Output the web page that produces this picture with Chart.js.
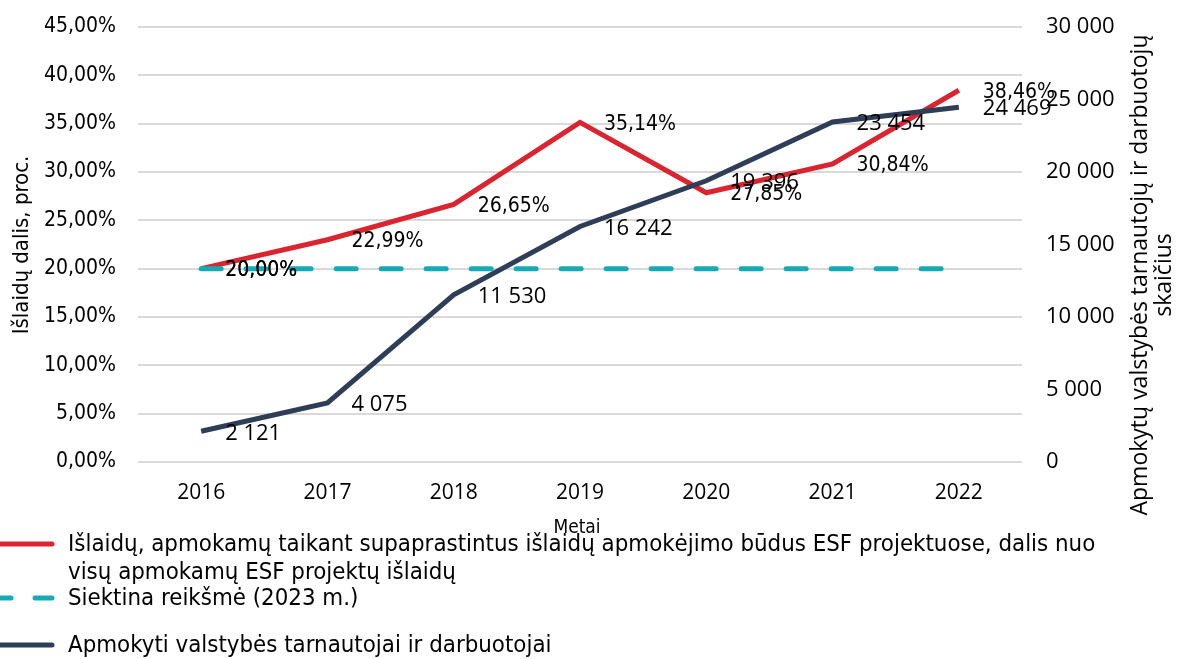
<!DOCTYPE html>
<html>
<head>
<meta charset="utf-8">
<script src="https://cdn.jsdelivr.net/npm/chart.js@4.4.1/dist/chart.umd.min.js"></script>
<style>
  html, body { margin: 0; padding: 0; background: #fff; }
  #wrap { width: 1177px; height: 659px; position: relative; }
</style>
</head>
<body>
<div id="wrap"><canvas id="esfChart"></canvas></div>
<script>
// data
const years = ['2016', '2017', '2018', '2019', '2020', '2021', '2022'];
const shareValues = [20.00, 22.99, 26.65, 35.14, 27.85, 30.84, 38.46];
const targetValues = [20.00, 20.00, 20.00, 20.00, 20.00, 20.00, 20.00];
const trainedValues = [2121, 4075, 11530, 16242, 19396, 23454, 24469];
// which points carry a value label (teal shows only the first one)
const targetLabelIdx = [0];

const legendTexts = [
  ['Išlaidų, apmokamų taikant supaprastintus išlaidų apmokėjimo būdus ESF projektuose, dalis nuo', 'visų apmokamų ESF projektų išlaidų'],
  ['Siektina reikšmė (2023 m.)'],
  ['Apmokyti valstybės tarnautojai ir darbuotojai']
];

const RED = 'rgb(218,37,49)';
const TEAL = 'rgb(22,170,180)';
const NAVY = 'rgb(46,62,86)';
const COND = '"DejaVu Sans Condensed", "DejaVu Sans"';
const pctFont = '21px ' + COND;
const numFont = '22px "Open Sans"';

function fmtPct(v) {
  return v.toFixed(2).replace('.', ',') + '%';
}
function fmtNum(v) {
  return String(Math.round(v)).replace(/\B(?=(\d{3})+(?!\d))/g, ' ');
}

// value labels to the right of each point
const valueLabels = {
  id: 'valueLabels',
  afterDatasetsDraw(chart) {
    const ctx = chart.ctx;
    ctx.save();
    ctx.textAlign = 'left';
    ctx.textBaseline = 'middle';
    ctx.fillStyle = '#000';
    chart.data.datasets.forEach((ds, i) => {
      const meta = chart.getDatasetMeta(i);
      meta.data.forEach((pt, j) => {
        if (ds.labelIdx && ds.labelIdx.indexOf(j) < 0) return;
        const v = ds.data[j];
        ctx.font = ds.yAxisID === 'y1' ? numFont : pctFont;
        const txt = ds.yAxisID === 'y1' ? fmtNum(v) : fmtPct(v);
        ctx.fillText(txt, pt.x + 24, pt.y + 2);
      });
    });
    ctx.restore();
  }
};

// axis titles and the legend at the bottom
const extras = {
  id: 'extras',
  afterDraw(chart) {
    const ctx = chart.ctx;
    ctx.save();
    ctx.fillStyle = '#000';
    ctx.textBaseline = 'middle';

    // left axis title
    ctx.save();
    ctx.translate(22, 245);
    ctx.rotate(-Math.PI / 2);
    ctx.textAlign = 'center';
    ctx.font = '22px ' + COND;
    ctx.fillText('Išlaidų dalis, proc.', 0, 0);
    ctx.restore();

    // right axis title (two lines, reading upward)
    ctx.save();
    ctx.translate(1140, 275);
    ctx.rotate(-Math.PI / 2);
    ctx.textAlign = 'center';
    ctx.font = '23px "Open Sans"';
    ctx.fillText('Apmokytų valstybės tarnautojų ir darbuotojų', 0, 0);
    ctx.fillText('skaičius', 0, 24);
    ctx.restore();

    // x axis title
    ctx.textAlign = 'center';
    ctx.font = '19px ' + COND;
    ctx.fillText('Metai', 577, 528);

    // legend
    ctx.textAlign = 'left';
    ctx.font = '23.8px ' + COND;
    ctx.lineWidth = 5;
    ctx.lineCap = 'round';

    ctx.strokeStyle = RED;
    ctx.beginPath(); ctx.moveTo(0, 544); ctx.lineTo(52, 544); ctx.stroke();
    ctx.fillText(legendTexts[0][0], 68, 545);
    ctx.fillText(legendTexts[0][1], 68, 573);

    ctx.strokeStyle = TEAL;
    ctx.beginPath(); ctx.moveTo(-10, 598); ctx.lineTo(11, 598); ctx.stroke();
    ctx.beginPath(); ctx.moveTo(35, 598); ctx.lineTo(52, 598); ctx.stroke();
    ctx.fillText(legendTexts[1][0], 68, 599);

    ctx.strokeStyle = NAVY;
    ctx.beginPath(); ctx.moveTo(0, 645); ctx.lineTo(52, 645); ctx.stroke();
    ctx.fillText(legendTexts[2][0], 68, 646);

    ctx.restore();
  }
};

const data = {
  labels: years,
  datasets: [{
    label: legendTexts[0].join(' '),
    data: shareValues,
    borderColor: RED,
    backgroundColor: RED,
    borderWidth: 5,
    pointRadius: 0,
    yAxisID: 'y',
    order: 2
  },
  {
    label: legendTexts[1][0],
    data: targetValues,
    borderColor: TEAL,
    backgroundColor: TEAL,
    borderWidth: 5,
    borderDash: [20, 25],
    borderCapStyle: 'round',
    pointRadius: 0,
    yAxisID: 'y',
    labelIdx: targetLabelIdx,
    order: 1
  },
  {
    label: legendTexts[2][0],
    data: trainedValues,
    borderColor: NAVY,
    backgroundColor: NAVY,
    borderWidth: 5,
    pointRadius: 0,
    yAxisID: 'y1',
    order: 0
  }]
};

const config = {
  type: 'line',
  data: data,
  options: {
    responsive: true,
    maintainAspectRatio: false,
    animation: false,
    layout: { padding: { top: 27, left: 0, right: 0, bottom: 0 } },
    plugins: {
      legend: { display: false },
      tooltip: { enabled: false }
    },
    scales: {
      x: {
        offset: true,
        grid: { display: false },
        border: { display: false },
        ticks: { color: '#000', font: { family: 'Open Sans', size: 21 }, padding: 10 },
        afterFit(s) { s.height = 197; }
      },
      y: {
        position: 'left',
        min: 0,
        max: 45,
        // invisible tick marks push the labels away from the plot
        grid: { color: '#d9d9d9', lineWidth: 2, drawTicks: true, tickLength: 22, tickColor: 'rgba(0,0,0,0)' },
        border: { display: false },
        ticks: {
          stepSize: 5,
          color: '#000',
          font: { family: COND, size: 21 },
          padding: 0,
          callback: v => fmtPct(v)
        },
        afterFit(s) { s.width = 138; }
      },
      y1: {
        position: 'right',
        min: 0,
        max: 30000,
        grid: { drawOnChartArea: false, drawTicks: true, tickLength: 24, tickColor: 'rgba(0,0,0,0)' },
        border: { display: false },
        ticks: {
          stepSize: 5000,
          color: '#000',
          font: { family: 'Open Sans', size: 22 },
          padding: 0,
          callback: v => fmtNum(v)
        },
        afterFit(s) { s.width = 155; }
      }
    }
  },
  plugins: [valueLabels, extras]
};

const myChart = new Chart(document.getElementById('esfChart'), config);
</script>
</body>
</html>
